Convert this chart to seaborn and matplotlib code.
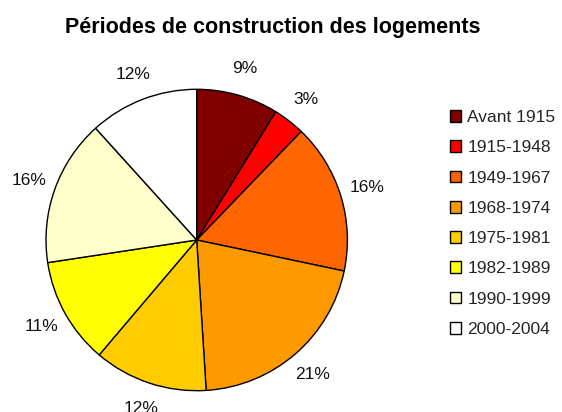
import matplotlib
matplotlib.use("Agg")
import matplotlib.pyplot as plt
import seaborn as sns

# periods and their share of dwellings (%)
periods = [
    "Avant 1915",
    "1915-1948",
    "1949-1967",
    "1968-1974",
    "1975-1981",
    "1982-1989",
    "1990-1999",
    "2000-2004",
]
shares = [8.8, 3.4, 16.1, 20.7, 12.2, 11.4, 15.7, 11.7]
colors = ["#800000", "#FF0000", "#FF6600", "#FF9900", "#FFCC00", "#FFFF00", "#FFFFCC", "#FFFFFF"]

sns.set_theme(style="white")
plt.rcParams["font.family"] = ["Liberation Sans", "DejaVu Sans"]

W, H = 562, 412
fig = plt.figure(figsize=(W / 100, H / 100), dpi=100)
fig.patch.set_facecolor("white")

cx, cy, r = 196.7, 240, 150.7
ax = fig.add_axes([(cx - r) / W, (H - cy - r) / H, 2 * r / W, 2 * r / H])

wedges, texts, autotexts = ax.pie(
    shares,
    colors=colors,
    startangle=90,
    counterclock=False,
    autopct="%.0f%%",
    pctdistance=1.18,
    wedgeprops=dict(edgecolor="black", linewidth=1.0),
    textprops=dict(fontsize=12.5, color="#111111"),
)
ax.set_xlim(-1, 1)
ax.set_ylim(-1, 1)
ax.set_aspect("equal")

fig.text(273 / W, 1 - 28 / H, "Périodes de construction des logements",
         ha="center", va="center", fontsize=15.5, fontweight="bold", color="black")

fig.legend(
    wedges,
    periods,
    loc="upper left",
    bbox_to_anchor=(450 / W, 1 - 110 / H),
    frameon=False,
    fontsize=12.5,
    handlelength=0.65,
    handleheight=0.65,
    handletextpad=0.35,
    labelspacing=0.88,
    borderpad=0,
    borderaxespad=0,
)

fig.savefig("out.png", dpi=100)
